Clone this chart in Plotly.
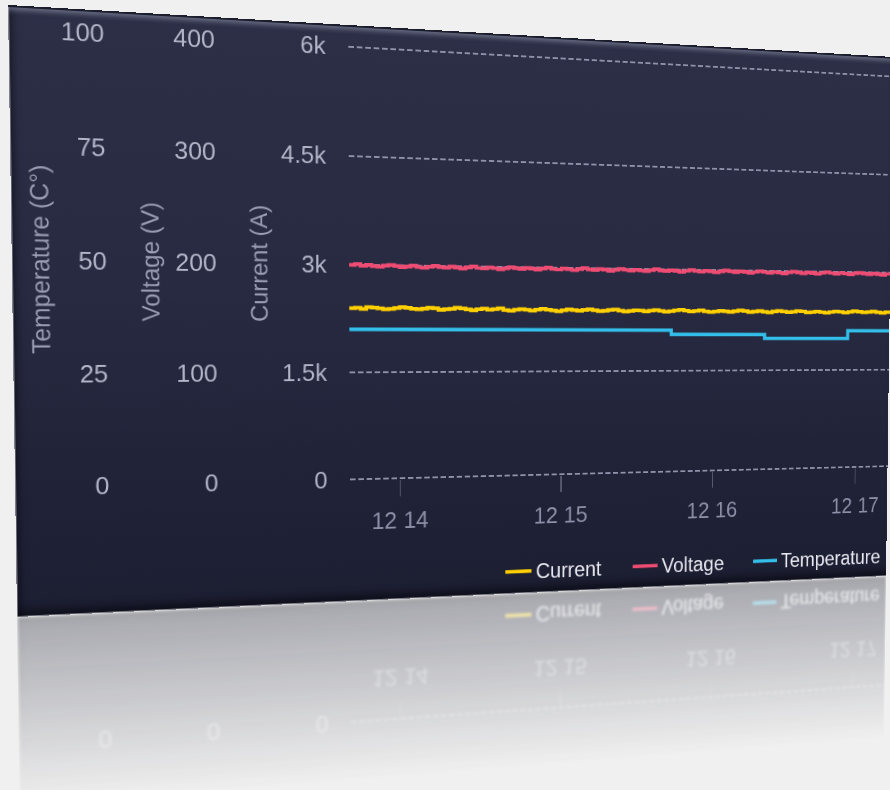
import numpy as np
import pandas as pd
import plotly.graph_objects as go

# ---- data -------------------------------------------------------------
start_time = "2023-12-14 12:13:42"
sample_seconds = 2

current_a = [
    2394, 2401, 2386, 2410, 2404, 2395, 2381, 2389, 2402, 2414,
    2406, 2391, 2384, 2396, 2409, 2400, 2379, 2387, 2395, 2412,
    2402, 2389, 2377, 2391, 2401, 2385, 2395, 2407, 2383, 2373,
    2389, 2399, 2387, 2377, 2393, 2405, 2391, 2381, 2369, 2385,
    2397, 2389, 2379, 2391, 2403, 2387, 2375, 2383, 2395, 2401,
    2385, 2371, 2381, 2393, 2387, 2377, 2389, 2399, 2385, 2373,
    2383, 2395, 2405, 2391, 2379, 2387, 2397, 2383, 2371, 2381,
    2393, 2385, 2375, 2389, 2401, 2391, 2377, 2385, 2395, 2383,
    2373, 2387, 2397, 2389, 2379, 2385, 2399, 2391, 2377, 2383,
    2393, 2381, 2371, 2385, 2395, 2387, 2377, 2389, 2401, 2393,
    2381, 2387, 2397, 2385, 2375, 2389, 2399,
]

voltage_v = [
    199.8, 200.6, 199.2, 200.1, 199.0, 198.4, 199.6, 200.3, 199.4, 198.3,
    199.0, 199.9, 198.8, 198.1, 199.2, 200.1, 199.0, 198.4, 199.6, 198.6,
    197.9, 199.0, 199.9, 198.8, 198.2, 199.4, 198.6, 197.7, 198.8, 199.7,
    199.0, 198.2, 199.4, 198.6, 197.9, 199.0, 199.9, 198.8, 198.2, 199.4,
    198.6, 197.9, 199.0, 199.9, 198.8, 198.2, 199.4, 198.6, 197.7, 198.8,
    199.7, 199.0, 198.1, 199.2, 198.4, 197.9, 199.0, 199.9, 198.8, 198.2,
    199.2, 198.4, 197.7, 198.8, 199.7, 198.6, 198.1, 199.2, 198.4, 197.7,
    198.8, 199.7, 199.0, 198.1, 199.2, 198.4, 197.7, 198.8, 199.6, 198.6,
    197.9, 199.0, 198.2, 197.5, 198.6, 199.6, 198.6, 197.9, 199.0, 198.2,
    197.7, 198.8, 199.6, 198.6, 197.9, 199.0, 198.2, 197.5, 198.6, 199.4,
    198.4, 197.9, 198.8, 198.1, 197.5, 198.6, 198.2,
]

temp_times = ["2023-12-14 12:13:42", "2023-12-14 12:15:43", "2023-12-14 12:16:21",
              "2023-12-14 12:16:56", "2023-12-14 12:17:14"]
temp_c = [35, 34, 33, 35, 35]

x_range = ["2023-12-14 12:13:42", "2023-12-14 12:17:14"]
current_range = [-15, 6015]
voltage_range = [-1, 401]
temp_range = [-0.25, 100.25]
current_ticks = [0, 1500, 3000, 4500, 6000]
current_ticktext = ["0", "1.5k", "3k", "4.5k", "6k"]

times = pd.date_range(start_time, periods=len(current_a), freq=f"{sample_seconds}s")

# ---- figure (flat panel coordinates) ----------------------------------
W, H = 980, 620
FONT = "Liberation Sans, Arial, Helvetica, sans-serif"
tick_col = "#b3b6c9"
title_col = "#9a9db3"

fig = go.Figure()
fig.add_trace(go.Scatter(x=times, y=current_a, name="Current", yaxis="y", legend="legend",
                         mode="lines", line=dict(color="#ffd000", width=4, shape="hv")))
fig.add_trace(go.Scatter(x=times, y=voltage_v, name="Voltage", yaxis="y2", legend="legend2",
                         mode="lines", line=dict(color="#ee4c72", width=4, shape="hv")))
fig.add_trace(go.Scatter(x=pd.to_datetime(temp_times), y=temp_c, name="Temperature", yaxis="y3",
                         legend="legend3",
                         mode="lines", line=dict(color="#33bfea", width=4, shape="hv")))

common_y = dict(showline=False, zeroline=False, ticks="", side="left", anchor="free",
                automargin=False, tickfont=dict(size=25, color=tick_col, family=FONT))


def legend_at(x):
    return dict(orientation="h", x=x, xanchor="left", y=-0.23, yanchor="middle",
                font=dict(size=23, color="#e9e9f1", family=FONT),
                bgcolor="rgba(0,0,0,0)", itemwidth=30)


fig.update_layout(
    width=W, height=H, autosize=False,
    margin=dict(l=0, r=0, t=22, b=132, pad=0),
    paper_bgcolor="rgba(0,0,0,0)", plot_bgcolor="rgba(0,0,0,0)",
    font=dict(family=FONT),
    showlegend=True,
    legend=legend_at(506 / W),
    legend2=legend_at(655 / W),
    legend3=legend_at(803 / W),
    xaxis=dict(type="date", domain=[339 / W, 1], range=x_range,
               tickformat="%H %M", dtick=60000, tick0="2023-12-14 12:14:00",
               ticks="outside", ticklen=18, tickwidth=1.5, tickcolor="#575b6e",
               ticklabelstandoff=5, showgrid=False, showline=False, zeroline=False,
               automargin=False, tickfont=dict(size=25, color="#8d90a8", family=FONT)),
    yaxis=dict(range=current_range, tickvals=current_ticks, ticktext=current_ticktext,
               position=315 / W, showgrid=True, gridcolor="#8e92aa", gridwidth=1.4,
               griddash="6px,3px", **common_y),
    yaxis2=dict(range=voltage_range, dtick=100, overlaying="y", position=201 / W,
                showgrid=False, **common_y),
    yaxis3=dict(range=temp_range, dtick=25, overlaying="y", position=91.5 / W,
                showgrid=False, **common_y),
)

for label, xpos in [("Temperature (C°)", 26.5), ("Voltage (V)", 134), ("Current (A)", 244)]:
    fig.add_annotation(text=label, xref="paper", yref="paper", x=xpos / W, y=0.5,
                       xanchor="center", yanchor="middle", textangle=-90, showarrow=False,
                       font=dict(size=25, color=title_col, family=FONT))

# ---- tilt the panel in perspective, with a faded reflection -----------
corners_src = [(0, 0), (W, 0), (W, H), (0, H)]
corners_dst = [(8, 5), (893, 57), (886, 576), (17, 617)]


def homography(src, dst):
    rows, rhs = [], []
    for (x, y), (X, Y) in zip(src, dst):
        rows.append([x, y, 1, 0, 0, 0, -X * x, -X * y]); rhs.append(X)
        rows.append([0, 0, 0, x, y, 1, -Y * x, -Y * y]); rhs.append(Y)
    return np.linalg.solve(np.array(rows, float), np.array(rhs, float))


h11, h12, h13, h21, h22, h23, h31, h32 = homography(corners_src, corners_dst)
m3d = "matrix3d(%.10f,%.10f,0,%.10f,%.10f,%.10f,0,%.10f,0,0,1,0,%.6f,%.6f,0,1)" % (
    h11, h21, h31, h12, h22, h32, h13, h23)

js = """
var gd = document.getElementById('{plot_id}');
var root = document.documentElement;
root.style.background = '#f0f0f0'; root.style.overflow = 'hidden';
document.body.style.margin = '0'; document.body.style.background = '#f0f0f0';
document.body.style.overflow = 'hidden';
var M = '__M__';
function panel(el, tf) {
  el.style.position = 'absolute'; el.style.left = '0px'; el.style.top = '0px';
  el.style.transformOrigin = '0 0';
  el.style.transform = tf;
  el.style.background = 'linear-gradient(180deg, #2c2f46 0%, #272a41 45%, #1c1e32 100%)';
  el.style.boxShadow = 'inset 0 2px 0 0 #1c1e2e, inset 0 8px 5px -3px rgba(185,190,215,0.42), ' +
      'inset 1px 0 0 0 rgba(210,210,222,0.55), inset 7px 0 8px -4px rgba(0,0,0,0.45), ' +
      'inset 0 -1px 0 0 rgba(225,225,235,0.6), inset 0 -12px 10px -5px rgba(0,0,0,0.45)';
}
var mirror = gd.cloneNode(true);
mirror.removeAttribute('id');
panel(gd, M);
panel(mirror, M + ' translateY(__H2__px) scaleY(-1)');
mirror.style.filter = 'blur(1.4px)';
mirror.style.webkitMaskImage = 'linear-gradient(to bottom, rgba(0,0,0,0) 68%, rgba(0,0,0,0.34) 100%)';
mirror.style.maskImage = 'linear-gradient(to bottom, rgba(0,0,0,0) 68%, rgba(0,0,0,0.34) 100%)';
gd.parentNode.insertBefore(mirror, gd);
""".replace("__M__", m3d).replace("__H2__", str(2 * H))

fig.write_html("out.html", post_script=js, config={"displayModeBar": False, "staticPlot": True})
